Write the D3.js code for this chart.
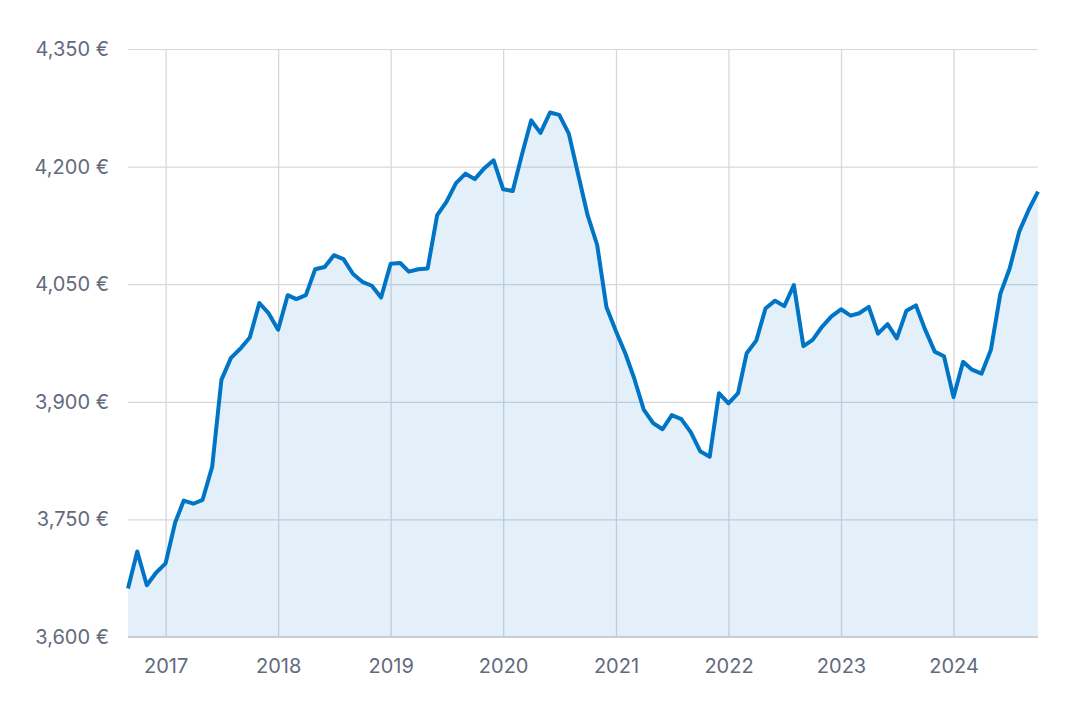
<!DOCTYPE html>
<html>
<head>
<meta charset="utf-8">
<script src="https://cdn.jsdelivr.net/npm/d3@7"></script>
<style>
  html, body { margin: 0; padding: 0; background: #ffffff; }
  svg { display: block; }
  text { font-family: Inter, "Noto Sans", sans-serif; }
</style>
</head>
<body>
<svg id="chart" width="1070" height="702"></svg>
<script>
// ---- data ----
const startMonth = "2016-09";
const endMonth = "2024-10";
const values = [
  3662, 3709, 3666, 3682,
  3694, 3746, 3774, 3770, 3775, 3817, 3928, 3956, 3968, 3982, 4026, 4013,
  3992, 4036, 4031, 4036, 4069, 4072, 4087, 4082, 4063, 4053, 4048, 4033,
  4076, 4077, 4066, 4069, 4070, 4138, 4155, 4179, 4191, 4184, 4198, 4208,
  4171, 4169, 4214, 4259, 4243, 4269, 4266, 4242, 4189, 4138, 4100, 4021,
  3990, 3961, 3930, 3890, 3873, 3865, 3883, 3878, 3861, 3837, 3830, 3911,
  3898, 3911, 3962, 3978, 4019, 4029, 4022, 4049, 3971, 3979, 3996, 4009,
  4018, 4010, 4013, 4021, 3987, 3999, 3981, 4016, 4023, 3992, 3964, 3958,
  3906, 3951, 3941, 3936, 3966, 4038, 4070, 4117, 4145, 4168
];
const yTicks = [3600, 3750, 3900, 4050, 4200, 4350];
const xTickYears = [2017, 2018, 2019, 2020, 2021, 2022, 2023, 2024];

// ---- layout ----
const W = 1070, H = 702;
const margin = { left: 128, right: 32, top: 49, bottom: 65 };
const svg = d3.select("#chart");

const parseMonth = d3.timeParse("%Y-%m");
const t0 = parseMonth(startMonth);
const data = values.map((v, i) => ({ date: d3.timeMonth.offset(t0, i), value: v }));

const x = d3.scaleTime()
  .domain([t0, parseMonth(endMonth)])
  .range([margin.left, W - margin.right]);
const y = d3.scaleLinear()
  .domain([3600, 4350])
  .range([H - margin.bottom, margin.top]);

const gridColor = "#d6d8de";
const textColor = "#636a7d";
const fontSize = "20px";

// horizontal grid + y labels
const yAxis = d3.axisLeft(y)
  .tickValues(yTicks)
  .tickSize(-(W - margin.left - margin.right))
  .tickPadding(19)
  .tickFormat(d => d3.format(",")(d) + " €");
const gy = svg.append("g")
  .attr("transform", `translate(${margin.left},0)`)
  .call(yAxis);
gy.select(".domain").remove();
gy.selectAll(".tick line").attr("stroke", gridColor).attr("stroke-width", 1.2);
gy.selectAll(".tick text")
  .attr("fill", textColor)
  .style("font-size", fontSize)
  .attr("x", -19);

// vertical grid + x labels
const yearDates = xTickYears.map(yr => new Date(yr, 0, 1));
const xAxis = d3.axisBottom(x)
  .tickValues(yearDates)
  .tickSize(-(H - margin.top - margin.bottom))
  .tickPadding(22)
  .tickFormat(d3.timeFormat("%Y"));
const gx = svg.append("g")
  .attr("transform", `translate(0,${H - margin.bottom})`)
  .call(xAxis);
gx.select(".domain").remove();
gx.selectAll(".tick line").attr("stroke", gridColor).attr("stroke-width", 1.3);
gx.selectAll(".tick text")
  .attr("fill", textColor)
  .attr("y", 22)
  .style("font-size", fontSize);

// area
const area = d3.area()
  .x(d => x(d.date))
  .y0(y(3600))
  .y1(d => y(d.value));
svg.append("path")
  .datum(data)
  .attr("d", area)
  .attr("fill", "rgba(0,118,200,0.11)");

// bottom baseline
svg.append("line")
  .attr("x1", margin.left).attr("x2", W - margin.right)
  .attr("y1", y(3600)).attr("y2", y(3600))
  .attr("stroke", "#c9ccd4").attr("stroke-width", 2);

// line
const line = d3.line()
  .x(d => x(d.date))
  .y(d => y(d.value));
svg.append("path")
  .datum(data)
  .attr("d", line)
  .attr("fill", "none")
  .attr("stroke", "#0074c5")
  .attr("stroke-width", 4)
  .attr("stroke-linejoin", "round")
  .attr("stroke-linecap", "butt");
</script>
</body>
</html>
